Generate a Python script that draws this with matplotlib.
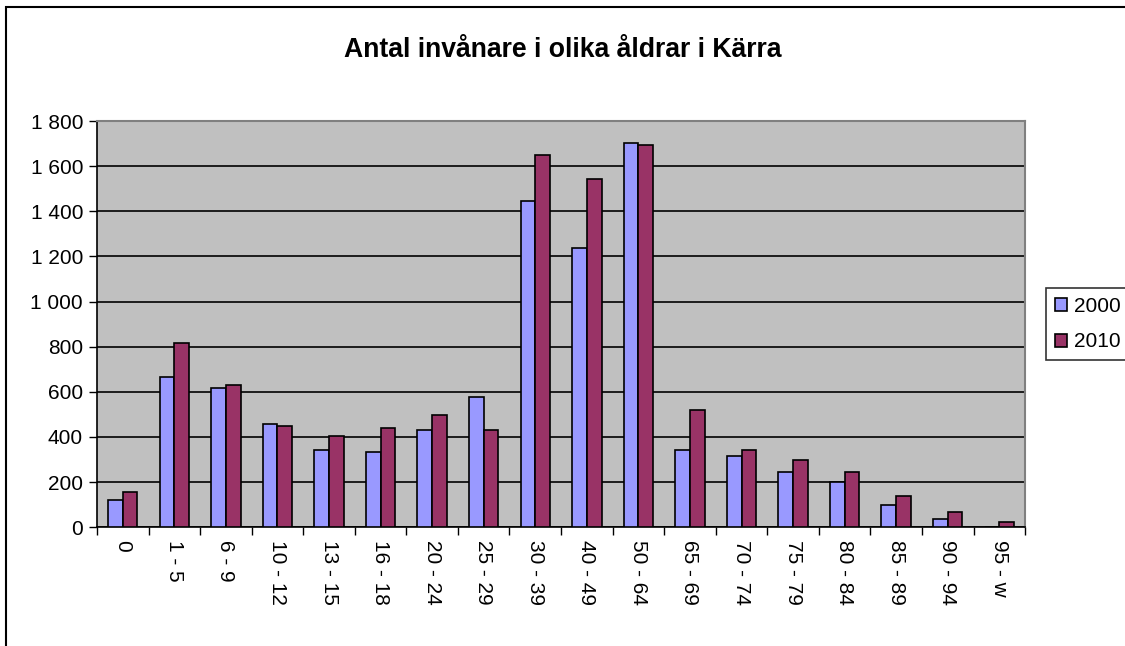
import matplotlib.pyplot as plt
import numpy as np
from matplotlib.patches import Rectangle
from matplotlib.ticker import FuncFormatter

plt.rcParams['font.family'] = ['Liberation Sans', 'DejaVu Sans']

# Åldersgrupper och antal invånare
age_groups = ["0", "1 - 5", "6 - 9", "10 - 12", "13 - 15", "16 - 18", "20 - 24",
              "25 - 29", "30 - 39", "40 - 49", "50 - 64", "65 - 69", "70 - 74",
              "75 - 79", "80 - 84", "85 - 89", "90 - 94", "95 - w"]
pop_2000 = [120, 665, 619, 458, 341, 332, 430, 576, 1446, 1238, 1703, 341,
            316, 244, 199, 100, 37, 0]
pop_2010 = [154, 817, 628, 449, 405, 440, 495, 430, 1652, 1542, 1696, 520,
            341, 297, 244, 136, 65, 21]

fig = plt.figure(figsize=(11.25, 6.46), dpi=100)
ax = fig.add_axes([0.0862, 0.184, 0.825, 0.6285])

x = np.arange(len(age_groups))
w = 0.285
ax.bar(x - w / 2, pop_2000, w, color="#9999FF", edgecolor="black", linewidth=1.2,
       label="2000", zorder=3)
ax.bar(x + w / 2, pop_2010, w, color="#993366", edgecolor="black", linewidth=1.2,
       label="2010", zorder=3)

ax.set_facecolor("#C0C0C0")
ax.set_xlim(-0.5, len(age_groups) - 0.5)
ax.set_ylim(0, 1800)
ax.set_yticks(np.arange(0, 1801, 200))
ax.yaxis.set_major_formatter(FuncFormatter(lambda v, p: f"{int(v):,}".replace(",", " ")))
ax.grid(axis="y", color="black", linewidth=1.2, zorder=1)

# tick marks between the groups, labels in the middle
ax.set_xticks(np.arange(-0.5, len(age_groups), 1.0))
ax.set_xticklabels([])
ax.set_xticks(x, minor=True)
ax.set_xticklabels(age_groups, minor=True, rotation=-90, fontsize=15)
ax.tick_params(axis="x", which="minor", length=0, pad=9)
ax.tick_params(axis="x", which="major", length=6, width=1, color="black")
ax.tick_params(axis="y", length=6, width=1, labelsize=15, pad=4)

for side in ["top", "right"]:
    ax.spines[side].set_color("#808080")
    ax.spines[side].set_linewidth(1.5)
for side in ["left", "bottom"]:
    ax.spines[side].set_color("black")
    ax.spines[side].set_linewidth(1.2)

fig.text(0.5, 0.923, "Antal invånare i olika åldrar i Kärra", ha="center",
         va="center", fontsize=19.2, fontweight="bold")

leg = ax.legend(loc="center left", bbox_to_anchor=(1.023, 0.5), fontsize=15,
                frameon=True, fancybox=False, edgecolor="black", handlelength=0.6,
                handleheight=0.6, handletextpad=0.3, borderpad=0.4,
                labelspacing=0.8, borderaxespad=0)
leg.get_frame().set_linewidth(1.2)

# ram runt hela diagrammet
fig.add_artist(Rectangle((6 / 1125, -0.1), 1.2, 1.1 - 7 / 646, transform=fig.transFigure,
                         fill=False, edgecolor="black", linewidth=1.5))

plt.savefig("out.png", dpi=100)
